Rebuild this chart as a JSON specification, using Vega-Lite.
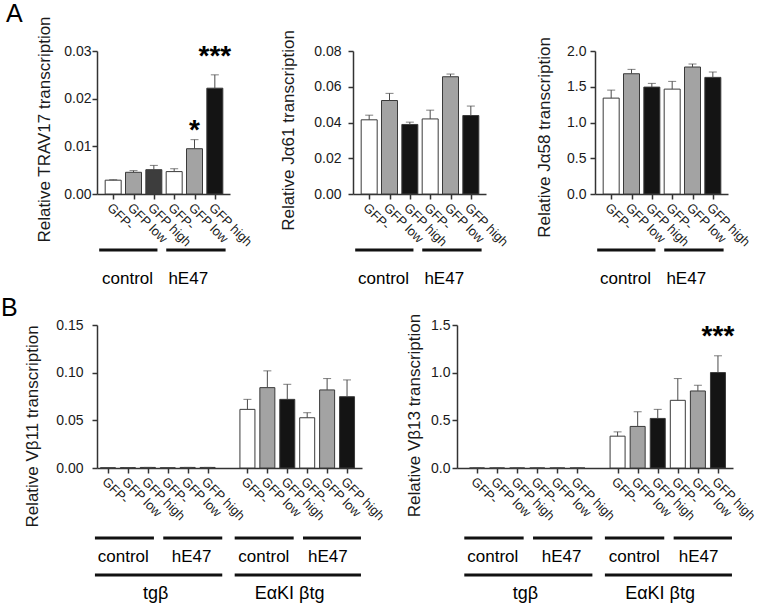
{
  "$schema": "https://vega.github.io/schema/vega-lite/v6.json",
  "background": "white",
  "padding": {"left": 1, "top": 1, "right": 0, "bottom": 0},
  "config": {
    "font": "Liberation Sans",
    "view": {"stroke": null},
    "axis": {"domainColor": "#333", "domainWidth": 1.5, "tickColor": "#333", "tickWidth": 1.5, "tickSize": 5, "labelColor": "#1a1a1a", "titleColor": "#1a1a1a", "titleFontWeight": "normal", "grid": false, "labelFont": "Liberation Sans", "titleFont": "Liberation Sans", "labelOverlap": false},
    "axisY": {"labelFontSize": 14, "titleFontSize": 17, "labelFlush": false, "labelOverlap": false},
    "axisX": {"labelFontSize": 13, "labelAngle": 45, "labelAlign": "left", "labelBaseline": "top", "labelPadding": 2, "labelFlush": false, "labelOverlap": false},
    "title": {"font": "Liberation Sans", "fontWeight": "normal", "color": "#000"}
  },
  "datasets": {
    "a1": [
      {"pos": 0, "shade": "white", "value": 0.0029, "hi": 0.0030, "sig": ""},
      {"pos": 1, "shade": "gray", "value": 0.00455, "hi": 0.0049, "sig": ""},
      {"pos": 2, "shade": "dark", "value": 0.0051, "hi": 0.0060, "sig": ""},
      {"pos": 3, "shade": "white", "value": 0.0047, "hi": 0.0053, "sig": ""},
      {"pos": 4, "shade": "gray", "value": 0.0095, "hi": 0.0114, "sig": "*"},
      {"pos": 5, "shade": "black", "value": 0.0222, "hi": 0.0250, "sig": "***"}
    ],
    "a2": [
      {"pos": 0, "shade": "white", "value": 0.0415, "hi": 0.0441},
      {"pos": 1, "shade": "gray", "value": 0.0523, "hi": 0.0563},
      {"pos": 2, "shade": "black", "value": 0.0389, "hi": 0.0402},
      {"pos": 3, "shade": "white", "value": 0.0420, "hi": 0.0469},
      {"pos": 4, "shade": "gray", "value": 0.0656, "hi": 0.0671},
      {"pos": 5, "shade": "black", "value": 0.0439, "hi": 0.0492}
    ],
    "a3": [
      {"pos": 0, "shade": "white", "value": 1.341, "hi": 1.453},
      {"pos": 1, "shade": "gray", "value": 1.682, "hi": 1.743},
      {"pos": 2, "shade": "black", "value": 1.495, "hi": 1.547},
      {"pos": 3, "shade": "white", "value": 1.467, "hi": 1.575},
      {"pos": 4, "shade": "gray", "value": 1.776, "hi": 1.818},
      {"pos": 5, "shade": "black", "value": 1.631, "hi": 1.706}
    ],
    "b1": [
      {"pos": 0, "shade": "white", "value": 0.0003, "hi": 0.0003},
      {"pos": 1, "shade": "gray", "value": 0.0004, "hi": 0.0004},
      {"pos": 2, "shade": "black", "value": 0.0006, "hi": 0.0006},
      {"pos": 3, "shade": "white", "value": 0.0003, "hi": 0.0003},
      {"pos": 4, "shade": "gray", "value": 0.0006, "hi": 0.0006},
      {"pos": 5, "shade": "black", "value": 0.0006, "hi": 0.0006},
      {"pos": 7, "shade": "white", "value": 0.0615, "hi": 0.0720},
      {"pos": 8, "shade": "gray", "value": 0.0843, "hi": 0.1019},
      {"pos": 9, "shade": "black", "value": 0.0720, "hi": 0.0878},
      {"pos": 10, "shade": "white", "value": 0.0527, "hi": 0.0580},
      {"pos": 11, "shade": "gray", "value": 0.0819, "hi": 0.0938},
      {"pos": 12, "shade": "black", "value": 0.0748, "hi": 0.0924}
    ],
    "b2": [
      {"pos": 0, "shade": "white", "value": 0, "hi": 0, "sig": ""},
      {"pos": 1, "shade": "gray", "value": 0, "hi": 0, "sig": ""},
      {"pos": 2, "shade": "black", "value": 0, "hi": 0, "sig": ""},
      {"pos": 3, "shade": "white", "value": 0, "hi": 0, "sig": ""},
      {"pos": 4, "shade": "gray", "value": 0, "hi": 0, "sig": ""},
      {"pos": 5, "shade": "black", "value": 0, "hi": 0, "sig": ""},
      {"pos": 7, "shade": "white", "value": 0.334, "hi": 0.379, "sig": ""},
      {"pos": 8, "shade": "gray", "value": 0.436, "hi": 0.590, "sig": ""},
      {"pos": 9, "shade": "black", "value": 0.520, "hi": 0.615, "sig": ""},
      {"pos": 10, "shade": "white", "value": 0.710, "hi": 0.938, "sig": ""},
      {"pos": 11, "shade": "gray", "value": 0.808, "hi": 0.868, "sig": ""},
      {"pos": 12, "shade": "black", "value": 1.001, "hi": 1.177, "sig": "***"}
    ],
    "annA": [
      {"tier": "t1", "from": -0.45, "to": 2.2, "mid": 0.84, "label": "control"},
      {"tier": "t1", "from": 2.6, "to": 5.3, "mid": 3.6, "label": "hE47"}
    ],
    "annB": [
      {"tier": "t1", "from": -0.4, "to": 2.45, "mid": 0.97, "label": "control"},
      {"tier": "t1", "from": 2.9, "to": 5.75, "mid": 4.27, "label": "hE47"},
      {"tier": "t1", "from": 6.35, "to": 9.2, "mid": 7.76, "label": "control"},
      {"tier": "t1", "from": 9.65, "to": 12.45, "mid": 10.85, "label": "hE47"},
      {"tier": "t2", "from": -0.4, "to": 5.75, "mid": 2.53, "label": "tgβ"},
      {"tier": "t2", "from": 6.35, "to": 12.45, "mid": 9.0, "label": "EαKI βtg"}
    ]
  },
  "concat": [
    {
      "hconcat": [
        {
          "vconcat": [
            {
              "width": 133, "height": 143,
              "data": {"name": "a1"},
              "title": {"text": "A", "anchor": "start", "frame": "group", "dx": -91, "offset": -31, "fontSize": 25, "baseline": "alphabetic"},
              "encoding": {"x": {"field": "pos", "type": "quantitative", "scale": {"domain": [-0.55, 5.5], "nice": false, "zero": false}, "axis": {"values": [0, 1, 2, 3, 4, 5], "labelExpr": "['GFP-','GFP low','GFP high','GFP-','GFP low','GFP high'][datum.value]", "title": null}}},
              "layer": [
                {"mark": {"type": "bar", "orient": "vertical", "width": 16, "stroke": "#3a3a3a", "strokeWidth": 1},
                 "encoding": {"y": {"field": "value", "type": "quantitative", "stack": null, "scale": {"domain": [0, 0.03], "nice": false}, "axis": {"values": [0, 0.01, 0.02, 0.03], "format": ".2f", "labelOverlap": false, "title": "Relative TRAV17 transcription", "titleY": 78, "labelPadding": 1, "titlePadding": 10}},
                  "fill": {"field": "shade", "type": "nominal", "scale": {"domain": ["white", "gray", "dark", "black"], "range": ["#ffffff", "#a3a3a3", "#3d3d3d", "#141414"]}, "legend": null}}},
                {"mark": {"type": "rule", "color": "#4a4a4a", "strokeWidth": 1}, "encoding": {"y": {"field": "value", "type": "quantitative", "axis": {"values": [0, 0.01, 0.02, 0.03], "format": ".2f", "labelOverlap": false, "title": "Relative TRAV17 transcription", "titleY": 78, "labelPadding": 1, "titlePadding": 10}}, "y2": {"field": "hi"}}},
                {"mark": {"type": "tick", "orient": "horizontal", "size": 8, "thickness": 1, "color": "#4a4a4a"}, "encoding": {"y": {"field": "hi", "type": "quantitative", "axis": {"values": [0, 0.01, 0.02, 0.03], "format": ".2f", "labelOverlap": false, "title": "Relative TRAV17 transcription", "titleY": 78, "labelPadding": 1, "titlePadding": 10}}}},
                {"transform": [{"filter": "datum.sig === '*'"}], "mark": {"type": "text", "fontSize": 28, "fontWeight": "bold", "dy": -1, "baseline": "alphabetic"}, "encoding": {"y": {"field": "hi", "type": "quantitative", "axis": {"values": [0, 0.01, 0.02, 0.03], "format": ".2f", "labelOverlap": false, "title": "Relative TRAV17 transcription", "titleY": 78, "labelPadding": 1, "titlePadding": 10}}, "text": {"field": "sig"}}},
                {"transform": [{"filter": "datum.sig === '***'"}], "mark": {"type": "text", "fontSize": 28, "fontWeight": "bold", "dy": -10, "baseline": "alphabetic"}, "encoding": {"y": {"field": "hi", "type": "quantitative", "axis": {"values": [0, 0.01, 0.02, 0.03], "format": ".2f", "labelOverlap": false, "title": "Relative TRAV17 transcription", "titleY": 78, "labelPadding": 1, "titlePadding": 10}}, "text": {"field": "sig"}}}
              ]
            },
            {
              "width": 133, "height": 36,
              "data": {"name": "annA"},
              "layer": [
                {"mark": {"type": "rule", "strokeWidth": 3, "color": "#111"}, "encoding": {"x": {"field": "from", "type": "quantitative", "scale": {"domain": [-0.55, 5.5], "nice": false, "zero": false}, "axis": null}, "x2": {"field": "to"}, "y": {"field": "tier", "type": "nominal", "bandPosition": 0, "scale": {"type": "band", "paddingInner": 0, "paddingOuter": 0}, "axis": null}}},
                {"mark": {"type": "text", "fontSize": 17, "baseline": "middle"}, "encoding": {"x": {"field": "mid", "type": "quantitative"}, "y": {"field": "tier", "type": "nominal", "bandPosition": 0.8}, "text": {"field": "label"}}}
              ]
            }
          ],
          "spacing": 56, "bounds": "flush"
        },
        {
          "vconcat": [
            {
              "width": 133, "height": 143,
              "data": {"name": "a2"},
              "encoding": {"x": {"field": "pos", "type": "quantitative", "scale": {"domain": [-0.55, 5.5], "nice": false, "zero": false}, "axis": {"values": [0, 1, 2, 3, 4, 5], "labelExpr": "['GFP-','GFP low','GFP high','GFP-','GFP low','GFP high'][datum.value]", "title": null}}},
              "layer": [
                {"mark": {"type": "bar", "orient": "vertical", "width": 16, "stroke": "#3a3a3a", "strokeWidth": 1},
                 "encoding": {"y": {"field": "value", "type": "quantitative", "stack": null, "scale": {"domain": [0, 0.08], "nice": false}, "axis": {"values": [0, 0.02, 0.04, 0.06, 0.08], "format": ".2f", "labelOverlap": false, "title": "Relative Jα61 transcription", "titleY": 79, "labelPadding": 7, "titlePadding": 16}},
                  "fill": {"field": "shade", "type": "nominal", "scale": {"domain": ["white", "gray", "dark", "black"], "range": ["#ffffff", "#a3a3a3", "#3d3d3d", "#141414"]}, "legend": null}}},
                {"mark": {"type": "rule", "color": "#4a4a4a", "strokeWidth": 1}, "encoding": {"y": {"field": "value", "type": "quantitative", "axis": {"values": [0, 0.02, 0.04, 0.06, 0.08], "format": ".2f", "labelOverlap": false, "title": "Relative Jα61 transcription", "titleY": 79, "labelPadding": 7, "titlePadding": 16}}, "y2": {"field": "hi"}}},
                {"mark": {"type": "tick", "orient": "horizontal", "size": 8, "thickness": 1, "color": "#4a4a4a"}, "encoding": {"y": {"field": "hi", "type": "quantitative", "axis": {"values": [0, 0.02, 0.04, 0.06, 0.08], "format": ".2f", "labelOverlap": false, "title": "Relative Jα61 transcription", "titleY": 79, "labelPadding": 7, "titlePadding": 16}}}}
              ]
            },
            {
              "width": 133, "height": 36,
              "data": {"name": "annA"},
              "layer": [
                {"mark": {"type": "rule", "strokeWidth": 3, "color": "#111"}, "encoding": {"x": {"field": "from", "type": "quantitative", "scale": {"domain": [-0.55, 5.5], "nice": false, "zero": false}, "axis": null}, "x2": {"field": "to"}, "y": {"field": "tier", "type": "nominal", "bandPosition": 0, "scale": {"type": "band", "paddingInner": 0, "paddingOuter": 0}, "axis": null}}},
                {"mark": {"type": "text", "fontSize": 17, "baseline": "middle"}, "encoding": {"x": {"field": "mid", "type": "quantitative"}, "y": {"field": "tier", "type": "nominal", "bandPosition": 0.8}, "text": {"field": "label"}}}
              ]
            }
          ],
          "spacing": 56, "bounds": "flush"
        },
        {
          "vconcat": [
            {
              "width": 133, "height": 143,
              "data": {"name": "a3"},
              "encoding": {"x": {"field": "pos", "type": "quantitative", "scale": {"domain": [-0.55, 5.5], "nice": false, "zero": false}, "axis": {"values": [0, 1, 2, 3, 4, 5], "labelExpr": "['GFP-','GFP low','GFP high','GFP-','GFP low','GFP high'][datum.value]", "title": null}}},
              "layer": [
                {"mark": {"type": "bar", "orient": "vertical", "width": 16, "stroke": "#3a3a3a", "strokeWidth": 1},
                 "encoding": {"y": {"field": "value", "type": "quantitative", "stack": null, "scale": {"domain": [0, 2], "nice": false}, "axis": {"values": [0, 0.5, 1, 1.5, 2], "format": ".1f", "labelOverlap": false, "title": "Relative Jα58 transcription", "titleY": 86, "labelPadding": 4, "titlePadding": 13}},
                  "fill": {"field": "shade", "type": "nominal", "scale": {"domain": ["white", "gray", "dark", "black"], "range": ["#ffffff", "#a3a3a3", "#3d3d3d", "#141414"]}, "legend": null}}},
                {"mark": {"type": "rule", "color": "#4a4a4a", "strokeWidth": 1}, "encoding": {"y": {"field": "value", "type": "quantitative", "axis": {"values": [0, 0.5, 1, 1.5, 2], "format": ".1f", "labelOverlap": false, "title": "Relative Jα58 transcription", "titleY": 86, "labelPadding": 4, "titlePadding": 13}}, "y2": {"field": "hi"}}},
                {"mark": {"type": "tick", "orient": "horizontal", "size": 8, "thickness": 1, "color": "#4a4a4a"}, "encoding": {"y": {"field": "hi", "type": "quantitative", "axis": {"values": [0, 0.5, 1, 1.5, 2], "format": ".1f", "labelOverlap": false, "title": "Relative Jα58 transcription", "titleY": 86, "labelPadding": 4, "titlePadding": 13}}}}
              ]
            },
            {
              "width": 133, "height": 36,
              "data": {"name": "annA"},
              "layer": [
                {"mark": {"type": "rule", "strokeWidth": 3, "color": "#111"}, "encoding": {"x": {"field": "from", "type": "quantitative", "scale": {"domain": [-0.55, 5.5], "nice": false, "zero": false}, "axis": null}, "x2": {"field": "to"}, "y": {"field": "tier", "type": "nominal", "bandPosition": 0, "scale": {"type": "band", "paddingInner": 0, "paddingOuter": 0}, "axis": null}}},
                {"mark": {"type": "text", "fontSize": 17, "baseline": "middle"}, "encoding": {"x": {"field": "mid", "type": "quantitative"}, "y": {"field": "tier", "type": "nominal", "bandPosition": 0.8}, "text": {"field": "label"}}}
              ]
            }
          ],
          "spacing": 56, "bounds": "flush"
        }
      ],
      "spacing": 25
    },
    {
      "hconcat": [
        {
          "vconcat": [
            {
              "width": 265, "height": 143,
              "data": {"name": "b1"},
              "title": {"text": "B", "anchor": "start", "frame": "group", "dx": -96, "offset": -23, "fontSize": 25, "baseline": "alphabetic"},
              "encoding": {"x": {"field": "pos", "type": "quantitative", "scale": {"domain": [-0.3, 12.5], "nice": false, "zero": false}, "axis": {"values": [0, 1, 2, 3, 4, 5, 7, 8, 9, 10, 11, 12], "labelExpr": "['GFP-','GFP low','GFP high','GFP-','GFP low','GFP high','','GFP-','GFP low','GFP high','GFP-','GFP low','GFP high'][datum.value]", "title": null}}},
              "layer": [
                {"mark": {"type": "bar", "orient": "vertical", "width": 15, "stroke": "#3a3a3a", "strokeWidth": 1},
                 "encoding": {"y": {"field": "value", "type": "quantitative", "stack": null, "scale": {"domain": [0, 0.15], "nice": false}, "axis": {"values": [0, 0.05, 0.1, 0.15], "format": ".2f", "labelOverlap": false, "title": "Relative Vβ11 transcription", "titleY": 101, "labelPadding": 9, "titlePadding": 14}},
                  "fill": {"field": "shade", "type": "nominal", "scale": {"domain": ["white", "gray", "dark", "black"], "range": ["#ffffff", "#a3a3a3", "#3d3d3d", "#141414"]}, "legend": null}}},
                {"mark": {"type": "rule", "color": "#4a4a4a", "strokeWidth": 1}, "encoding": {"y": {"field": "value", "type": "quantitative", "axis": {"values": [0, 0.05, 0.1, 0.15], "format": ".2f", "labelOverlap": false, "title": "Relative Vβ11 transcription", "titleY": 101, "labelPadding": 9, "titlePadding": 14}}, "y2": {"field": "hi"}}},
                {"mark": {"type": "tick", "orient": "horizontal", "size": 8, "thickness": 1, "color": "#4a4a4a"}, "encoding": {"y": {"field": "hi", "type": "quantitative", "axis": {"values": [0, 0.05, 0.1, 0.15], "format": ".2f", "labelOverlap": false, "title": "Relative Vβ11 transcription", "titleY": 101, "labelPadding": 9, "titlePadding": 14}}}}
              ]
            },
            {
              "width": 265, "height": 74,
              "data": {"name": "annB"},
              "layer": [
                {"mark": {"type": "rule", "strokeWidth": 3, "color": "#111"}, "encoding": {"x": {"field": "from", "type": "quantitative", "scale": {"domain": [-0.3, 12.5], "nice": false, "zero": false}, "axis": null}, "x2": {"field": "to"}, "y": {"field": "tier", "type": "nominal", "bandPosition": 0, "scale": {"type": "band", "paddingInner": 0, "paddingOuter": 0}, "axis": null}}},
                {"mark": {"type": "text", "fontSize": 17, "baseline": "middle"}, "encoding": {"x": {"field": "mid", "type": "quantitative"}, "y": {"field": "tier", "type": "nominal", "bandPosition": 0.5}, "text": {"field": "label"}, "size": {"condition": {"test": "datum.tier === 't2'", "value": 18}, "value": 17}}}
              ]
            }
          ],
          "spacing": 70, "bounds": "flush"
        },
        {
          "vconcat": [
            {
              "width": 276, "height": 143,
              "data": {"name": "b2"},
              "encoding": {"x": {"field": "pos", "type": "quantitative", "scale": {"domain": [-0.75, 12.5], "nice": false, "zero": false}, "axis": {"values": [0, 1, 2, 3, 4, 5, 7, 8, 9, 10, 11, 12], "labelExpr": "['GFP-','GFP low','GFP high','GFP-','GFP low','GFP high','','GFP-','GFP low','GFP high','GFP-','GFP low','GFP high'][datum.value]", "title": null}}},
              "layer": [
                {"mark": {"type": "bar", "orient": "vertical", "width": 15, "stroke": "#3a3a3a", "strokeWidth": 1},
                 "encoding": {"y": {"field": "value", "type": "quantitative", "stack": null, "scale": {"domain": [0, 1.5], "nice": false}, "axis": {"values": [0, 0.5, 1, 1.5], "format": ".1f", "labelOverlap": false, "title": "Relative Vβ13 transcription", "titleY": 90, "labelPadding": 2, "titlePadding": 7}},
                  "fill": {"field": "shade", "type": "nominal", "scale": {"domain": ["white", "gray", "dark", "black"], "range": ["#ffffff", "#a3a3a3", "#3d3d3d", "#141414"]}, "legend": null}}},
                {"mark": {"type": "rule", "color": "#4a4a4a", "strokeWidth": 1}, "encoding": {"y": {"field": "value", "type": "quantitative", "axis": {"values": [0, 0.5, 1, 1.5], "format": ".1f", "labelOverlap": false, "title": "Relative Vβ13 transcription", "titleY": 90, "labelPadding": 2, "titlePadding": 7}}, "y2": {"field": "hi"}}},
                {"mark": {"type": "tick", "orient": "horizontal", "size": 8, "thickness": 1, "color": "#4a4a4a"}, "encoding": {"y": {"field": "hi", "type": "quantitative", "axis": {"values": [0, 0.5, 1, 1.5], "format": ".1f", "labelOverlap": false, "title": "Relative Vβ13 transcription", "titleY": 90, "labelPadding": 2, "titlePadding": 7}}}},
                {"transform": [{"filter": "datum.sig === '***'"}], "mark": {"type": "text", "fontSize": 28, "fontWeight": "bold", "dy": -11, "baseline": "alphabetic"}, "encoding": {"y": {"field": "hi", "type": "quantitative", "axis": {"values": [0, 0.5, 1, 1.5], "format": ".1f", "labelOverlap": false, "title": "Relative Vβ13 transcription", "titleY": 90, "labelPadding": 2, "titlePadding": 7}}, "text": {"field": "sig"}}}
              ]
            },
            {
              "width": 276, "height": 74,
              "data": {"name": "annB"},
              "layer": [
                {"mark": {"type": "rule", "strokeWidth": 3, "color": "#111"}, "encoding": {"x": {"field": "from", "type": "quantitative", "scale": {"domain": [-0.75, 12.5], "nice": false, "zero": false}, "axis": null}, "x2": {"field": "to"}, "y": {"field": "tier", "type": "nominal", "bandPosition": 0, "scale": {"type": "band", "paddingInner": 0, "paddingOuter": 0}, "axis": null}}},
                {"mark": {"type": "text", "fontSize": 17, "baseline": "middle"}, "encoding": {"x": {"field": "mid", "type": "quantitative"}, "y": {"field": "tier", "type": "nominal", "bandPosition": 0.5}, "text": {"field": "label"}, "size": {"condition": {"test": "datum.tier === 't2'", "value": 18}, "value": 17}}}
              ]
            }
          ],
          "spacing": 70, "bounds": "flush"
        }
      ],
      "spacing": 19
    }
  ],
  "columns": 1,
  "align": "none",
  "spacing": 9
}
